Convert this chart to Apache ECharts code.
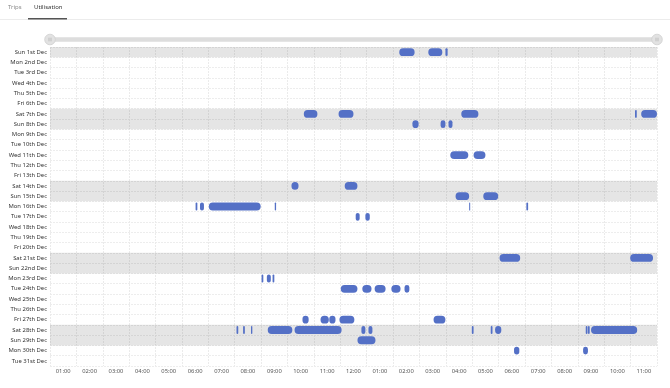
<!DOCTYPE html>
<html>
<head>
<meta charset="utf-8">
<script src="https://cdn.jsdelivr.net/npm/echarts@6/dist/echarts.min.js"></script>
<style>
html,body{margin:0;padding:0;background:#fff;}
#chart{width:670px;height:388px;}
</style>
</head>
<body>
<div id="chart"></div>
<script>
// ---- data ----
const days = ['Sun 1st Dec','Mon 2nd Dec','Tue 3rd Dec','Wed 4th Dec','Thu 5th Dec','Fri 6th Dec','Sat 7th Dec','Sun 8th Dec','Mon 9th Dec','Tue 10th Dec','Wed 11th Dec','Thu 12th Dec','Fri 13th Dec','Sat 14th Dec','Sun 15th Dec','Mon 16th Dec','Tue 17th Dec','Wed 18th Dec','Thu 19th Dec','Fri 20th Dec','Sat 21st Dec','Sun 22nd Dec','Mon 23rd Dec','Tue 24th Dec','Wed 25th Dec','Thu 26th Dec','Fri 27th Dec','Sat 28th Dec','Sun 29th Dec','Mon 30th Dec','Tue 31st Dec'];

const hourLabels = ['01:00','02:00','03:00','04:00','05:00','06:00','07:00','08:00','09:00','10:00','11:00','12:00','01:00','02:00','03:00','04:00','05:00','06:00','07:00','08:00','09:00','10:00','11:00'];

const tabs = ['Trips','Utilisation'];

// [day, start, end]  (24h clock)
const sessions = [
  ['Sun 1st Dec','13:44','14:19'],['Sun 1st Dec','14:50','15:22'],['Sun 1st Dec','15:29','15:34'],
  ['Sat 7th Dec','10:07','10:38'],['Sat 7th Dec','11:26','12:00'],['Sat 7th Dec','16:05','16:44'],['Sat 7th Dec','22:40','22:44'],['Sat 7th Dec','22:54','23:30'],
  ['Sun 8th Dec','14:14','14:28'],['Sun 8th Dec','15:18','15:29'],['Sun 8th Dec','15:36','15:45'],
  ['Wed 11th Dec','15:40','16:21'],['Wed 11th Dec','16:33','17:00'],
  ['Sat 14th Dec','09:39','09:55'],['Sat 14th Dec','11:40','12:09'],
  ['Sun 15th Dec','15:52','16:23'],['Sun 15th Dec','16:55','17:29'],
  ['Mon 16th Dec','06:01','06:05'],['Mon 16th Dec','06:11','06:20'],['Mon 16th Dec','06:31','08:29'],['Mon 16th Dec','09:01','09:04'],['Mon 16th Dec','16:23','16:25'],['Mon 16th Dec','18:33','18:37'],
  ['Tue 17th Dec','12:05','12:14'],['Tue 17th Dec','12:27','12:37'],
  ['Sat 21st Dec','17:32','18:19'],['Sat 21st Dec','22:29','23:21'],
  ['Mon 23rd Dec','08:31','08:35'],['Mon 23rd Dec','08:43','08:52'],['Mon 23rd Dec','08:56','09:00'],
  ['Tue 24th Dec','11:31','12:09'],['Tue 24th Dec','12:20','12:41'],['Tue 24th Dec','12:48','13:13'],['Tue 24th Dec','13:26','13:47'],['Tue 24th Dec','13:56','14:07'],
  ['Fri 27th Dec','10:04','10:18'],['Fri 27th Dec','10:45','11:04'],['Fri 27th Dec','11:05','11:19'],['Fri 27th Dec','11:28','12:02'],['Fri 27th Dec','15:02','15:29'],
  ['Sat 28th Dec','07:34','07:38'],['Sat 28th Dec','07:49','07:53'],['Sat 28th Dec','08:07','08:10'],['Sat 28th Dec','08:45','09:41'],['Sat 28th Dec','09:46','11:33'],['Sat 28th Dec','12:18','12:27'],['Sat 28th Dec','12:34','12:43'],['Sat 28th Dec','16:29','16:33'],['Sat 28th Dec','17:12','17:16'],['Sat 28th Dec','17:22','17:36'],['Sat 28th Dec','20:48','20:52'],['Sat 28th Dec','20:53','20:57'],['Sat 28th Dec','21:00','22:45'],
  ['Sun 29th Dec','12:09','12:50'],
  ['Mon 30th Dec','18:05','18:17'],['Mon 30th Dec','20:42','20:53']
];

// ---- build ----
function toHours(t){ const p = t.split(':'); return +p[0] + (+p[1])/60; }
const segData = sessions.map(s => [days.indexOf(s[0]), toHours(s[1]), toHours(s[2])]);
const weekendData = days.map((d,i)=>[i]).filter(r => /^(Sat|Sun)/.test(days[r[0]]));

const FONT = '"Noto Sans", sans-serif';
const chart = echarts.init(document.getElementById('chart'));

const GL = 50, GR = 13, GT = 47, GH = 319;
const trackY = 39.5;

chart.setOption({
  animation: false,
  textStyle: {fontFamily: FONT},
  grid: {left: GL, right: GR, top: GT, height: GH, containLabel: false},
  xAxis: [
    {type:'category', data: hourLabels, boundaryGap: true, position:'bottom',
     axisLine:{show:false}, axisTick:{show:false},
     axisLabel:{interval:0, fontSize:5.8, color:'#555', margin:2.5, fontFamily: FONT},
     splitLine:{show:true, lineStyle:{color:'#ebebeb', type:[2,1], width:1}}},
    {type:'value', min:0.5, max:23.5, show:false, splitLine:{show:false}}
  ],
  yAxis: [
    {type:'category', data: days, inverse:true,
     axisLine:{show:false}, axisTick:{show:false},
     axisLabel:{interval:0, fontSize:5.9, color:'#333', margin:3, fontFamily: FONT},
     splitLine:{show:true, lineStyle:{color:'#ededed', type:[2,1], width:1}}}
  ],
  series: [
    {type:'custom', xAxisIndex:1, yAxisIndex:0, data: weekendData, silent:true, z:1,
     renderItem: function(params, api){
       const cs = params.coordSys;
       const c = api.coord([1, api.value(0)]);
       const h = api.size([0,1])[1];
       return {type:'rect', shape:{x:cs.x, y:c[1]-h/2, width:cs.width, height:h},
               style:{fill:'rgba(0,0,0,0.1)'}};
     }},
    {type:'custom', xAxisIndex:1, yAxisIndex:0, data: segData, z:3,
     encode:{x:[1,2], y:0},
     renderItem: function(params, api){
       const y = api.value(0);
       const s = api.coord([api.value(1), y]);
       const e = api.coord([api.value(2), y]);
       const h = api.size([0,1])[1]*0.76;
       const cs = params.coordSys;
       const shape = echarts.graphic.clipRectByRect(
         {x:s[0], y:s[1]-h/2, width:Math.max(e[0]-s[0],1), height:h},
         {x:cs.x, y:cs.y, width:cs.width, height:cs.height});
       if(!shape) return;
       return {type:'rect', shape:Object.assign(shape,{r:h/2}), style:{fill:'#5470c6'}};
     }}
  ],
  graphic: [
    {type:'text', left:8, top:4.5, style:{text:tabs[0], fontSize:6, fill:'#8a8a8a', fontFamily:FONT}},
    {type:'text', left:34, top:4.5, style:{text:tabs[1], fontSize:6, fill:'#333', fontFamily:FONT}},
    {type:'rect', shape:{x:0, y:19, width:670, height:1}, style:{fill:'#ececec'}},
    {type:'rect', shape:{x:28, y:18, width:39, height:1.5}, style:{fill:'#555'}},
    {type:'rect', shape:{x:GL, y:trackY-2.2, width:670-GL-GR, height:4.4, r:2.2}, style:{fill:'#dddddd'}},
    {type:'circle', shape:{cx:GL, cy:trackY, r:5.3}, style:{fill:'#e2e2e2', stroke:'#cfcfcf', lineWidth:0.8}},
    {type:'line', shape:{x1:GL-1, y1:trackY-1.8, x2:GL-1, y2:trackY+1.8}, style:{stroke:'#aaa', lineWidth:0.6}},
    {type:'line', shape:{x1:GL+1, y1:trackY-1.8, x2:GL+1, y2:trackY+1.8}, style:{stroke:'#aaa', lineWidth:0.6}},
    {type:'circle', shape:{cx:670-GR, cy:trackY, r:5.3}, style:{fill:'#e2e2e2', stroke:'#cfcfcf', lineWidth:0.8}},
    {type:'line', shape:{x1:670-GR-1, y1:trackY-1.8, x2:670-GR-1, y2:trackY+1.8}, style:{stroke:'#aaa', lineWidth:0.6}},
    {type:'line', shape:{x1:670-GR+1, y1:trackY-1.8, x2:670-GR+1, y2:trackY+1.8}, style:{stroke:'#aaa', lineWidth:0.6}}
  ]
});
</script>
</body>
</html>
